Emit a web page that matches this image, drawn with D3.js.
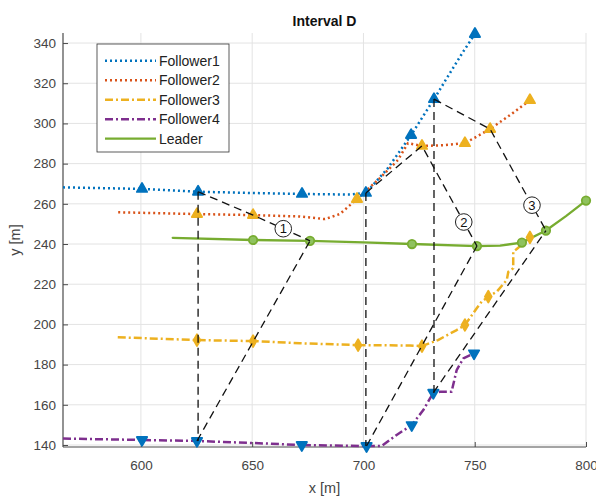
<!DOCTYPE html>
<html>
<head>
<meta charset="utf-8">
<script src="https://cdn.jsdelivr.net/npm/d3@7"></script>
<style>
  html, body { margin: 0; padding: 0; background: #ffffff; }
  svg { display: block; font-family: "Liberation Sans", Arial, Helvetica, sans-serif; }
</style>
</head>
<body>
<svg id="chart" width="596" height="502"></svg>
<script>
// ---- trajectories (x, y in metres) ----
const follower1X = [565, 600.5, 625.7, 650, 672.4, 694, 701.1, 711, 721.4, 731.7, 738.9, 744.7, 750.1];
const follower1Y = [268.2, 267.4, 266.0, 265.4, 264.9, 264.6, 265.4, 277.8, 294.2, 312.1, 325.1, 335.5, 344.5];

const follower2X = [589.8, 625.2, 650.4, 671.5, 682.7, 689.4, 697.1, 707.4, 715.5, 720.0, 726.3, 736.6, 745.6, 756.9, 765.9, 774.8];
const follower2Y = [255.8, 254.9, 254.4, 253.7, 252.4, 254.9, 262.4, 272.8, 281.8, 290.2, 288.8, 289.2, 290.2, 297.2, 304.2, 311.6];

const follower3X = [589.6, 625.2, 650.4, 671.5, 697.6, 720.9, 726.3, 733.5, 741.9, 745.6, 750.9, 753.1, 756.1, 759.9, 764.4, 765.1, 767.3, 767.3, 768.9, 774.8];
const follower3Y = [193.6, 192.2, 191.7, 190.6, 189.7, 189.5, 189.2, 192.2, 197.2, 199.7, 208.0, 211.3, 213.8, 216.3, 222.1, 226.2, 227.9, 236.2, 237.5, 243.3];

const follower4X = [565, 600.5, 625.2, 650, 672.3, 701.4, 708.2, 714.9, 721.7, 726.9, 731.4, 734.4, 739.6, 741.9, 744.9, 749.7];
const follower4Y = [143.2, 142.5, 142.0, 141.0, 140.0, 139.5, 139.5, 145.0, 149.9, 157.4, 166.0, 166.5, 166.5, 177.3, 183.1, 185.6];

const leaderX = [614.3, 650.4, 676.0, 700, 721.8, 751.0, 761.4, 771.2, 782.0, 791.0, 800.0];
const leaderY = [243.1, 242.0, 241.6, 240.8, 240.0, 239.0, 239.2, 240.7, 246.7, 253.9, 261.6];

// ---- sampled positions (same sample index across vehicles) ----
const follower1MarkX = [600.5, 625.7, 672.4, 701.1, 721.4, 731.7, 750.1];
const follower1MarkY = [267.4, 266.0, 264.9, 265.4, 294.2, 312.1, 344.5];
const follower2MarkX = [625.2, 650.4, 697.1, 726.3, 745.6, 756.9, 774.8];
const follower2MarkY = [254.9, 254.4, 262.4, 288.8, 290.2, 297.2, 311.6];
const follower3MarkX = [625.2, 650.4, 697.6, 726.3, 745.6, 756.1, 774.8];
const follower3MarkY = [192.2, 191.7, 189.7, 189.2, 199.7, 213.8, 243.3];
const follower4MarkX = [600.5, 625.2, 672.3, 701.4, 721.7, 731.4, 749.7];
const follower4MarkY = [142.5, 142.0, 140.0, 139.5, 149.9, 166.0, 185.6];
const leaderMarkX = [650.4, 676.0, 721.8, 751.0, 771.2, 782.0, 800.0];
const leaderMarkY = [242.0, 241.6, 240.0, 239.0, 240.7, 246.7, 261.6];

// formation snapshots (sample indices) and their labels
const snapshotIndex = [1, 3, 5];
const snapshotLabel = ["1", "2", "3"];
const snapshotLabelPos = [0.53, 0.76, 0.75];

const seriesNames = ["Follower1", "Follower2", "Follower3", "Follower4", "Leader"];
const xTicks = [600, 650, 700, 750, 800];
const yTicks = [140, 160, 180, 200, 220, 240, 260, 280, 300, 320, 340];

// ---- layout ----
const svg = d3.select("#chart");
const plotLeft = 63, plotRight = 586, plotTop = 33, plotBottom = 447;
const x = d3.scaleLinear().domain([565, 800]).range([plotLeft, plotRight]);
const y = d3.scaleLinear().domain([139, 345]).range([plotBottom, plotTop]);

const blue = "#0072BD", orange = "#D95319", yellow = "#EDB120", purple = "#7E2F8E", green = "#77AC30";
const styles = {
  Follower1: { color: blue, dash: "2,3", width: 2.5, cap: "butt" },
  Follower2: { color: orange, dash: "2,3", width: 2.5, cap: "butt" },
  Follower3: { color: yellow, dash: "8,3,2,3", width: 2.5, cap: "butt" },
  Follower4: { color: purple, dash: "8,3,2,3", width: 2.5, cap: "butt" },
  Leader: { color: green, dash: null, width: 2.3, cap: "round" }
};

// grid
const grid = svg.append("g").attr("stroke", "#e3e3e3").attr("stroke-width", 1);
grid.selectAll(".gx").data(xTicks).join("line")
  .attr("x1", d => x(d)).attr("x2", d => x(d)).attr("y1", plotTop).attr("y2", plotBottom);
grid.selectAll(".gy").data(yTicks).join("line")
  .attr("x1", plotLeft).attr("x2", plotRight).attr("y1", d => y(d)).attr("y2", d => y(d));

// axes
const axisColor = "#4a4a4a";
const gx = svg.append("g").attr("transform", `translate(0,${plotBottom})`)
  .call(d3.axisBottom(x).tickValues(xTicks).tickSizeInner(-5).tickSizeOuter(0).tickPadding(13).tickFormat(d3.format("d")));
const gy = svg.append("g").attr("transform", `translate(${plotLeft},0)`)
  .call(d3.axisLeft(y).tickValues(yTicks).tickSizeInner(-5).tickSizeOuter(0).tickPadding(7).tickFormat(d3.format("d")));
[gx, gy].forEach(g => {
  g.select(".domain").attr("stroke", axisColor).attr("stroke-width", 1.2);
  g.selectAll(".tick line").attr("stroke", axisColor);
  g.selectAll("text").attr("fill", "#454545").attr("font-size", 13.5)
    .attr("font-family", "'Liberation Sans', Arial, sans-serif");
});
gy.select(".domain").attr("d", `M0,${plotBottom}V${plotTop}`);
gx.select(".domain").attr("d", `M${plotLeft},0H${plotRight}`);

// labels
svg.append("text").attr("x", (plotLeft + plotRight) / 2).attr("y", 26).attr("text-anchor", "middle")
  .attr("font-size", 14).attr("font-weight", "bold").attr("fill", "#111").text("Interval D");
svg.append("text").attr("x", (plotLeft + plotRight) / 2).attr("y", 493).attr("text-anchor", "middle")
  .attr("font-size", 14.5).attr("fill", "#454545").text("x [m]");
svg.append("text").attr("transform", `translate(20,240) rotate(-90)`).attr("text-anchor", "middle")
  .attr("font-size", 14.5).attr("fill", "#454545").text("y [m]");

// trajectories
const trajX = [follower1X, follower2X, follower3X, follower4X, leaderX];
const trajY = [follower1Y, follower2Y, follower3Y, follower4Y, leaderY];
const line = d3.line().x(d => x(d[0])).y(d => y(d[1]));
seriesNames.forEach((name, i) => {
  const s = styles[name];
  const pts = trajX[i].map((v, j) => [v, trajY[i][j]]);
  svg.append("path").datum(pts).attr("d", line)
    .attr("fill", "none").attr("stroke", s.color).attr("stroke-width", s.width)
    .attr("stroke-dasharray", s.dash).attr("stroke-linecap", s.cap).attr("stroke-linejoin", "round");
});

// sample markers
function drawMarkers(xs, ys, type, size, fill, stroke, rotate) {
  const sym = d3.symbol().type(type).size(size);
  svg.append("g").selectAll("path").data(xs.map((v, j) => [v, ys[j]])).join("path")
    .attr("d", sym)
    .attr("transform", d => `translate(${x(d[0])},${y(d[1])}) rotate(${rotate})`)
    .attr("fill", fill).attr("stroke", stroke).attr("stroke-width", 1.8).attr("stroke-linejoin", "round");
}
drawMarkers(follower1MarkX, follower1MarkY, d3.symbolTriangle, 46, blue, blue, 0);
drawMarkers(follower2MarkX, follower2MarkY, d3.symbolTriangle, 46, yellow, yellow, 0);
drawMarkers(follower3MarkX, follower3MarkY, d3.symbolDiamond, 40, yellow, yellow, 0);
drawMarkers(follower4MarkX, follower4MarkY, d3.symbolTriangle, 46, blue, blue, 180);
drawMarkers(leaderMarkX, leaderMarkY, d3.symbolCircle, 56, "#8fc25e", green, 0);

// formation snapshots
const snap = svg.append("g").attr("fill", "none").attr("stroke", "#111")
  .attr("stroke-width", 1.3).attr("stroke-dasharray", "8,5");
snapshotIndex.forEach((k, i) => {
  const p1 = [x(follower1MarkX[k]), y(follower1MarkY[k])];
  const p2 = [x(follower2MarkX[k]), y(follower2MarkY[k])];
  const p4 = [x(follower4MarkX[k]), y(follower4MarkY[k])];
  const pl = [x(leaderMarkX[k]), y(leaderMarkY[k])];
  snap.append("path").attr("d", `M${p1[0]},${p1[1]}L${p1[0]},${p4[1]}`);
  snap.append("path").attr("d", `M${p1[0]},${p1[1]}L${p2[0]},${p2[1]}L${pl[0]},${pl[1]}`);
  snap.append("path").attr("d", `M${p4[0]},${p4[1]}L${pl[0]},${pl[1]}`);
  const t = snapshotLabelPos[i];
  const lx = p2[0] + (pl[0] - p2[0]) * t, ly = p2[1] + (pl[1] - p2[1]) * t;
  const g = svg.append("g").attr("transform", `translate(${lx},${ly})`);
  g.append("circle").attr("r", 8.3).attr("fill", "#fff").attr("stroke", "#222").attr("stroke-width", 1);
  g.append("text").attr("text-anchor", "middle").attr("dy", "0.36em").attr("font-size", 13)
    .attr("fill", "#111").text(snapshotLabel[i]);
});

// legend
const legend = svg.append("g").attr("transform", "translate(97,44)");
legend.append("rect").attr("width", 132).attr("height", 108)
  .attr("fill", "#fff").attr("stroke", "#333").attr("stroke-width", 0.8);
seriesNames.forEach((name, i) => {
  const s = styles[name];
  const ly = 16.7 + i * 19.5;
  legend.append("line").attr("x1", 8).attr("x2", 59).attr("y1", ly).attr("y2", ly)
    .attr("stroke", s.color).attr("stroke-width", s.width).attr("stroke-dasharray", s.dash);
  legend.append("text").attr("x", 62).attr("y", ly).attr("dy", "0.36em")
    .attr("font-size", 14).attr("fill", "#222").text(name);
});
</script>
</body>
</html>
